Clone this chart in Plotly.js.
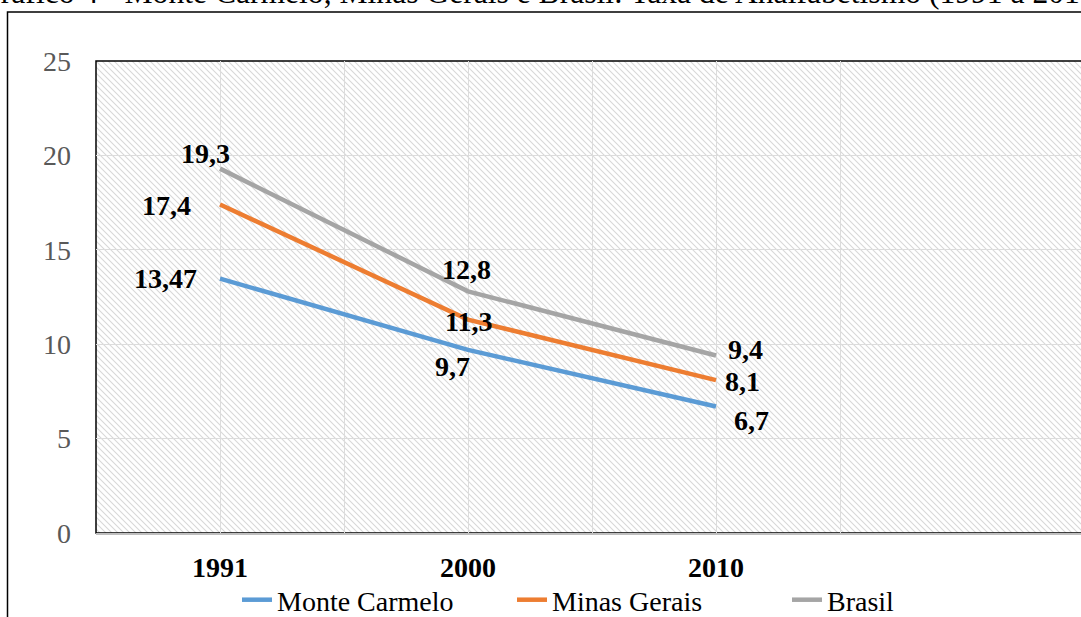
<!DOCTYPE html>
<html>
<head>
<meta charset="utf-8">
<script src="https://cdn.plot.ly/plotly-3.0.1.min.js"></script>
<style>
  html, body { margin: 0; padding: 0; background: #fff; }
  #chart { width: 1081px; height: 617px; }
</style>
</head>
<body>
<div id="chart"></div>
<script>
// ---------- DATA ----------
const years = ['1991', '2000', '2010'];
const monteCarmelo = [13.47, 9.7, 6.7];
const minasGerais = [17.4, 11.3, 8.1];
const brasil = [19.3, 12.8, 9.4];
const seriesNames = ['Monte Carmelo', 'Minas Gerais', 'Brasil'];
const chartTitle = 'Gráfico 4 - Monte Carmelo, Minas Gerais e Brasil: Taxa de Analfabetismo (1991 a 2010)';

// ---------- STYLE ----------
const W = 1081, H = 617;
const M = { l: 96, r: 0, t: 61, b: 84, autoexpand: false };
const PW = W - M.l - M.r, PH = H - M.t - M.b;
const CAT_PX = 248; // pixel spacing between categories
const FONT = 'Liberation Serif';
const colors = ['#5B9BD5', '#ED7D31', '#A5A5A5'];
// label pixel offsets [dx, dy] (dy positive = down)
const labelOffsets = [
  [[-55, 0], [-16, 17], [35, 14]],
  [[-54, 1], [0, 2], [26, 1]],
  [[-15, -15], [-2, -22], [29, -6]]
];

const px2x = px => (px - M.l) / PW;
const py2y = py => (H - M.b - py) / PH;

const xIdx = years.map((_, i) => i);
const allSeries = [monteCarmelo, minasGerais, brasil];

const traces = allSeries.map((vals, s) => ({
  type: 'scatter',
  mode: 'lines',
  x: xIdx,
  y: vals,
  name: seriesNames[s],
  line: { color: colors[s], width: 4.5 },
  hoverinfo: 'skip'
}));

const annotations = [];
allSeries.forEach((vals, s) => {
  vals.forEach((v, i) => {
    annotations.push({
      xref: 'x', yref: 'y', x: xIdx[i], y: v,
      text: String(v).replace('.', ','),
      showarrow: false,
      xanchor: 'center', yanchor: 'middle',
      xshift: labelOffsets[s][i][0],
      yshift: -labelOffsets[s][i][1],
      font: { family: FONT, size: 28, color: '#000', weight: 'bold' }
    });
  });
});

// title (partly clipped at top, as in reference)
annotations.push({
  xref: 'paper', yref: 'paper',
  x: px2x(-24), y: py2y(12),
  xanchor: 'left', yanchor: 'bottom',
  text: chartTitle, showarrow: false,
  font: { family: FONT, size: 31.6, color: '#000' }
});

// hatch pattern background
const svg = "<svg xmlns='http://www.w3.org/2000/svg' width='" + PW + "' height='" + PH + "'>" +
  "<defs><pattern id='p' width='6' height='6' patternUnits='userSpaceOnUse'>" +
  "<path d='M-1,-1 L7,7 M5,-1 L7,1 M-1,5 L1,7' stroke='#d8d8d8' stroke-width='1.1'/>" +
  "</pattern></defs><rect width='100%' height='100%' fill='url(#p)'/></svg>";
const bgImage = 'data:image/svg+xml;charset=utf-8,' + encodeURIComponent(svg);

const layout = {
  width: W, height: H,
  margin: M,
  paper_bgcolor: '#ffffff',
  plot_bgcolor: 'rgba(0,0,0,0)',
  showlegend: true,
  font: { family: FONT, size: 28, color: '#000' },
  xaxis: {
    range: [-0.5, -0.5 + PW / CAT_PX],
    tickmode: 'array',
    tickvals: xIdx,
    ticktext: years,
    showgrid: true,
    gridcolor: '#dcdcdc',
    gridwidth: 1,
    minor: { tickmode: 'linear', tick0: 0.5, dtick: 1, showgrid: true, gridcolor: '#dcdcdc', gridwidth: 1, ticks: '' },
    showline: true, linecolor: '#bfbfbf', linewidth: 2,
    zeroline: false,
    ticks: '',
    ticklabelstandoff: 8,
    tickfont: { family: FONT, size: 28, color: '#000', weight: 'bold' },
    fixedrange: true
  },
  yaxis: {
    range: [0, 25],
    tickmode: 'linear', tick0: 0, dtick: 5,
    showgrid: true, gridcolor: '#dcdcdc', gridwidth: 1,
    zeroline: false,
    showline: false,
    ticks: '',
    ticklabelstandoff: 24,
    tickfont: { family: FONT, size: 28, color: '#595959' },
    fixedrange: true
  },
  legend: {
    orientation: 'h',
    xref: 'paper', yref: 'paper',
    x: px2x(237), y: py2y(600),
    xanchor: 'left', yanchor: 'middle',
    entrywidth: 230, entrywidthmode: 'pixels',
    font: { family: FONT, size: 28, color: '#000' },
    bgcolor: 'rgba(0,0,0,0)',
    itemclick: false, itemdoubleclick: false
  },
  images: [{
    source: bgImage,
    xref: 'paper', yref: 'paper',
    x: 0, y: 1, sizex: 1, sizey: 1,
    xanchor: 'left', yanchor: 'top',
    sizing: 'stretch', layer: 'below'
  }],
  shapes: [
    { type: 'rect', xref: 'paper', yref: 'paper', x0: 0, x1: 1.5, y0: 0, y1: 1,
      line: { color: '#000', width: 1.5 }, fillcolor: 'rgba(0,0,0,0)', layer: 'below' },
    { type: 'rect', xref: 'paper', yref: 'paper', x0: px2x(7.5), x1: px2x(1400), y0: py2y(800), y1: py2y(12),
      line: { color: '#000', width: 1.5 }, fillcolor: 'rgba(0,0,0,0)', layer: 'below' }
  ],
  annotations: annotations
};

Plotly.newPlot('chart', traces, layout, { displayModeBar: false, staticPlot: true });
</script>
</body>
</html>
